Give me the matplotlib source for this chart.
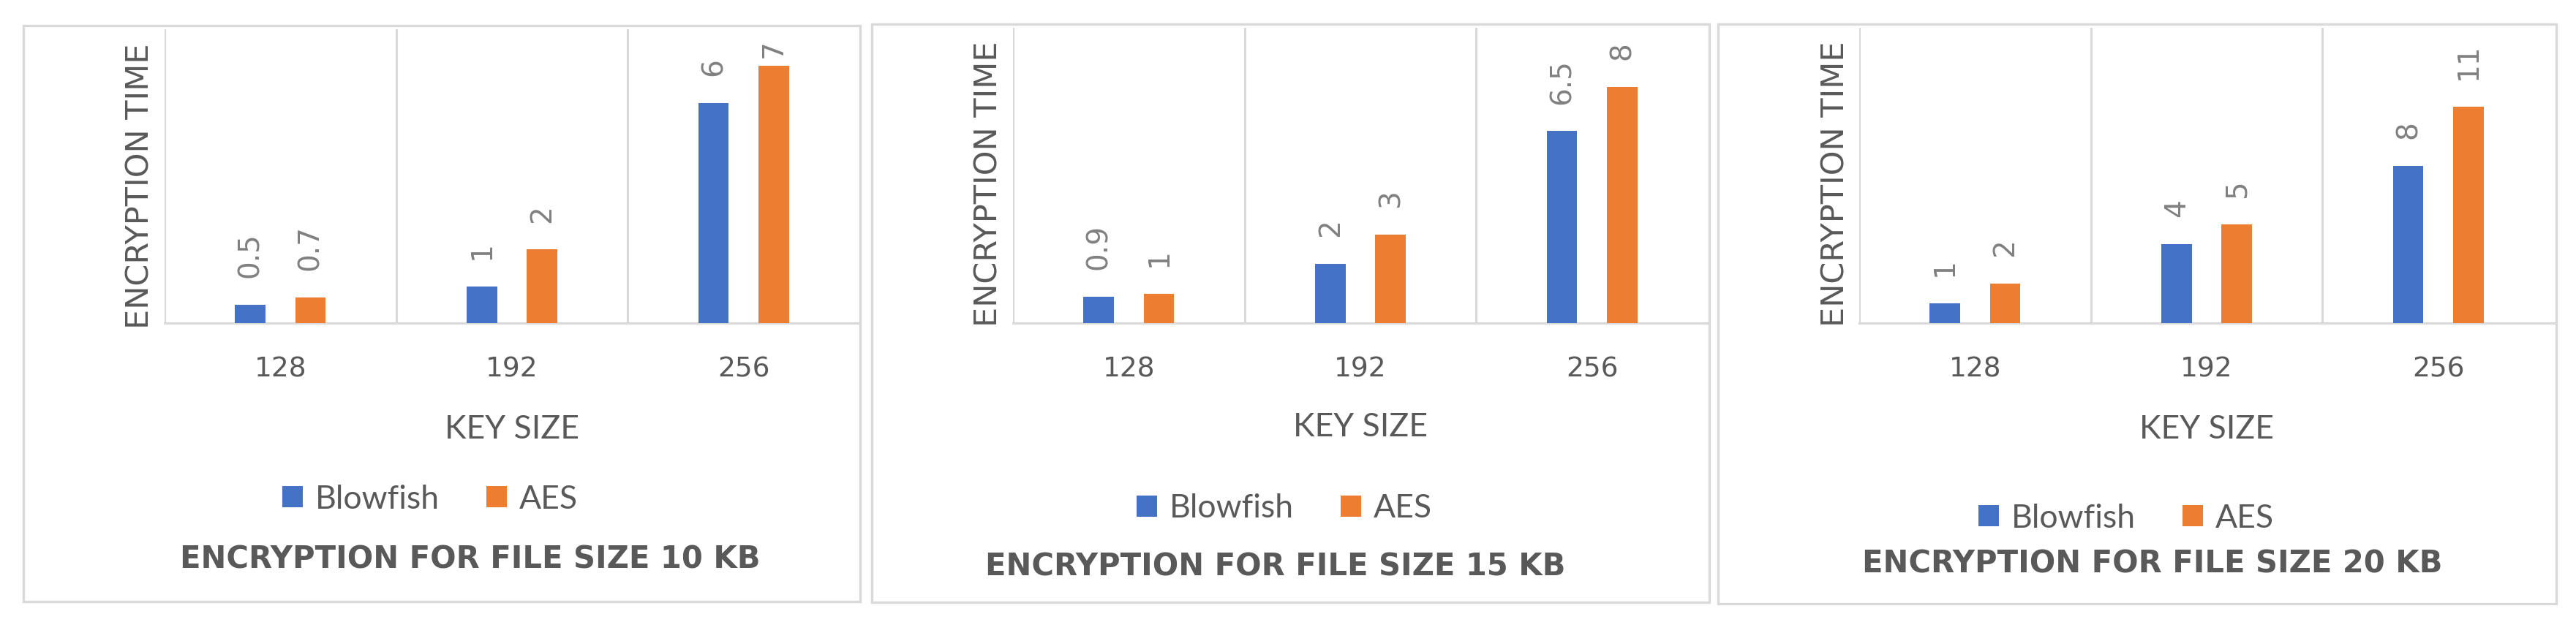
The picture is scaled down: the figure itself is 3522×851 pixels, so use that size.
import matplotlib
matplotlib.use("Agg")
import matplotlib.pyplot as plt
from matplotlib.patches import Rectangle, Patch

# ---------------- data ----------------
key_sizes = ["128", "192", "256"]
series_names = ["Blowfish", "AES"]
blowfish_10kb = [0.5, 1, 6]
aes_10kb = [0.7, 2, 7]
blowfish_15kb = [0.9, 2, 6.5]
aes_15kb = [1, 3, 8]
blowfish_20kb = [1, 4, 8]
aes_20kb = [2, 5, 11]
titles = ["ENCRYPTION FOR FILE SIZE 10 KB",
          "ENCRYPTION FOR FILE SIZE 15 KB",
          "ENCRYPTION FOR FILE SIZE 20 KB"]
y_label = "ENCRYPTION TIME"
x_label = "KEY SIZE"
y_max = [8, 10, 15]

# ---------------- style ----------------
W, H, DPI = 3522, 851, 100
BLUE = "#4472C4"
ORANGE = "#ED7D31"
GRID = "#D9D9D9"
TXT = "#595959"
LBL = "#808080"
FONT = "Lato"

fig = plt.figure(figsize=(W / DPI, H / DPI), dpi=DPI)
fig.patch.set_facecolor("white")


def fx(px):
    return px / W


def fy(py):
    return 1 - py / H


# layout per panel (pixel coords, top-origin)
panels = [
    dict(frame=(32, 35, 1176, 823), plot=(225, 40, 1175, 442),
         ylab=(203, 255), xlab_base=600, leg=(588, 683), title=(643, 777)),
    dict(frame=(1192, 33, 2337, 824), plot=(1385, 38, 2335, 442),
         ylab=(1363, 252), xlab_base=597, leg=(1756, 696), title=(1744, 787)),
    dict(frame=(2349, 33, 3495, 826), plot=(2542, 38, 3492, 442),
         ylab=(2521, 252), xlab_base=600, leg=(2907, 709), title=(2943, 784)),
]
data = [(blowfish_10kb, aes_10kb), (blowfish_15kb, aes_15kb), (blowfish_20kb, aes_20kb)]

bar_w = 0.1325
offset = 0.13
annotations = []

for i, (p, (bf, aes)) in enumerate(zip(panels, data)):
    # outer frame
    fx0, fy0, fx1, fy1 = p["frame"]
    fig.patches.append(Rectangle((fx(fx0), fy(fy1)), fx(fx1) - fx(fx0), (fy1 - fy0) / H,
                                 transform=fig.transFigure, fill=False,
                                 edgecolor=GRID, linewidth=2.4, zorder=0))
    x0, y0, x1, y1 = p["plot"]
    ax = fig.add_axes([fx(x0), fy(y1), fx(x1) - fx(x0), (y1 - y0) / H])
    ax.set_facecolor("none")
    xs = list(range(len(key_sizes)))
    ax.bar([x - offset for x in xs], bf, width=bar_w, color=BLUE, zorder=3)
    ax.bar([x + offset for x in xs], aes, width=bar_w, color=ORANGE, zorder=3)
    ax.set_xlim(-0.5, len(key_sizes) - 0.5)
    ax.set_ylim(0, y_max[i])
    for s in ["top", "right", "left"]:
        ax.spines[s].set_visible(False)
    ax.spines["bottom"].set_color(GRID)
    ax.spines["bottom"].set_linewidth(2.3)
    for b in [-0.5 + k for k in range(len(key_sizes))]:
        ax.axvline(b, color=GRID, linewidth=2.2, zorder=1)
    ax.set_yticks([])
    ax.set_xticks(xs)
    ax.set_xticklabels(key_sizes, fontsize=27, color=TXT, family="DejaVu Sans")
    ax.tick_params(axis="x", length=0, pad=33)

    # data labels
    for xv, vals in ((-offset, bf), (offset, aes)):
        for x, v in zip(xs, vals):
            a = ax.annotate(f"{v:g}", xy=(x + xv, v), xytext=(0, 26.5),
                            textcoords="offset points", rotation=90,
                            ha="center", va="bottom", fontsize=28,
                            color=LBL, family="DejaVu Sans")
            annotations.append(a)

    # axis labels
    ax.set_ylabel(y_label, fontsize=31, color=TXT, family="DejaVu Sans",
                  rotation=90, rotation_mode="anchor", ha="center", va="baseline")
    ax.yaxis.set_label_coords(fx(p["ylab"][0]), fy(p["ylab"][1]), transform=fig.transFigure)
    ax.set_xlabel(x_label, fontsize=32, color=TXT, family=FONT, va="baseline")
    ax.xaxis.set_label_coords(fx((x0 + x1) / 2), fy(p["xlab_base"]), transform=fig.transFigure)

    # legend
    handles = [Patch(facecolor=BLUE), Patch(facecolor=ORANGE)]
    leg = ax.legend(handles, series_names, loc="center",
                    bbox_to_anchor=(fx(p["leg"][0]), fy(p["leg"][1])),
                    bbox_transform=fig.transFigure, ncol=2, frameon=False,
                    prop=dict(family=FONT, size=32), handlelength=0.63,
                    handleheight=0.63, handletextpad=0.36, columnspacing=1.46,
                    borderpad=0, borderaxespad=0)
    for t in leg.get_texts():
        t.set_color(TXT)

    # title
    fig.text(fx(p["title"][0]), fy(p["title"][1]), titles[i], ha="center",
             va="baseline", fontsize=30, fontweight="bold", color=TXT,
             family="DejaVu Sans")

# keep data labels inside the chart area (like the source)
fig.canvas.draw()
renderer = fig.canvas.get_renderer()
limit = fy(54) * H
for a in annotations:
    bb = a.get_window_extent(renderer)
    if bb.y1 > limit:
        dx, dy = a.xyann
        a.xyann = (dx, dy - (bb.y1 - limit) * 72 / DPI)

fig.savefig("out.png", dpi=DPI)
